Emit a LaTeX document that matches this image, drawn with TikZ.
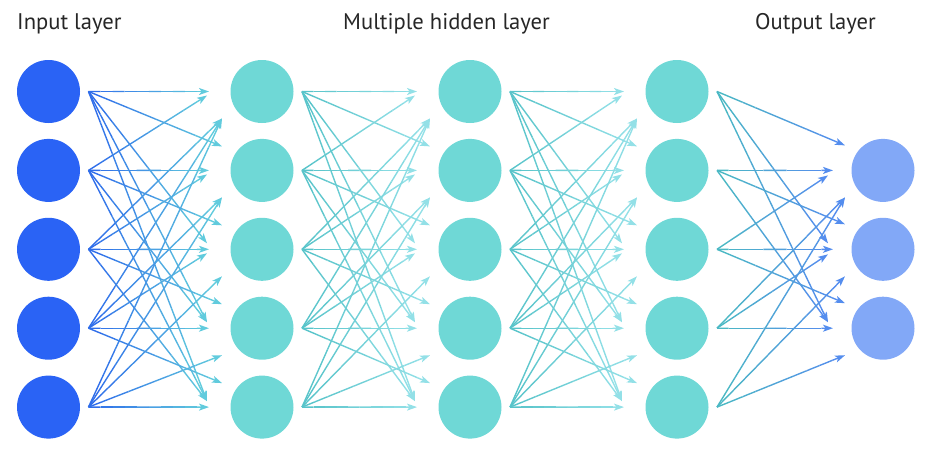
\documentclass[tikz,border=0pt]{standalone}
\usepackage{fontspec}
\setmainfont{PT Sans}
\usetikzlibrary{arrows.meta,calc}

\definecolor{inblue}{RGB}{42,99,245}
\definecolor{hidteal}{RGB}{111,216,214}
\definecolor{outblue}{RGB}{130,168,247}
\definecolor{txtgray}{RGB}{38,38,38}
\definecolor{aBlue}{RGB}{45,105,235}
\definecolor{aTealA}{RGB}{100,208,220}
\definecolor{aTealS}{RGB}{85,194,200}
\definecolor{aTealL}{RGB}{150,226,233}
\definecolor{aTealS4}{RGB}{75,186,194}
\definecolor{aBlue4}{RGB}{85,138,240}

% choose end point tag for source row #1 and target row #2
\newcommand\pickend[2]{%
  \ifnum#1=#2 \def\endtag{H}\else
    \ifnum#1<#2 
      \ifnum\numexpr#2-#1\relax=1 \def\endtag{FA}\else\def\endtag{NA}\fi
    \else
      \ifnum\numexpr#1-#2\relax=1 
        \ifnum#1=5 \def\endtag{FB}\else\def\endtag{NB}\fi
      \else\def\endtag{FB}\fi
    \fi
  \fi}

% gradient arrow from coordinate #1 to coordinate #2, colours #3 -> #4
\newcommand\gradarrow[4]{%
  \foreach \k in {0,...,9} {
    \pgfmathsetmacro\ta{\k/10}
    \pgfmathsetmacro\tb{(\k+1)/10}
    \pgfmathtruncatemacro\pc{100*(\k+0.5)/10}
    \edef\tmpc{#4!\pc!#3}
    \colorlet{segc}{\tmpc}
    \ifnum\k=9
      \draw[conn,segc,tipstyle] ($(#1)!\ta!(#2)$) -- ($(#1)!\tb!(#2)$);
    \else
      \draw[conn,segc] ($(#1)!\ta!(#2)$) -- ($(#1)!\tb!(#2)$);
    \fi
  }}

\begin{document}
\begin{tikzpicture}[x=1pt,y=-1pt,
  conn/.style={line width=1.4pt},
  tipstyle/.style={-{Stealth[length=10pt,width=7pt,inset=2.5pt]}},
  neuron/.style={circle,minimum size=63pt,inner sep=0pt,draw=none},
  lbl/.style={anchor=base west,inner sep=0pt,text=txtgray,font=\fontsize{22.6}{26}\selectfont}]

\useasboundingbox (0,0) rectangle (948,458);

% labels
\node[lbl] (tin)  at (17,29.3)  {Input layer};
\node[lbl] (thid) at (343,29.3) {Multiple hidden layer};
\node[lbl] (tout) at (755,29.3) {Output layer};

% neurons
\foreach \i in {1,...,5} {
  \node[neuron,fill=inblue]  (L0n\i) at (48.5,{91.5+78.9*(\i-1)}) {};
  \node[neuron,fill=hidteal] (L1n\i) at (262,{91.5+78.9*(\i-1)}) {};
  \node[neuron,fill=hidteal] (L2n\i) at (470,{91.5+78.9*(\i-1)}) {};
  \node[neuron,fill=hidteal] (L3n\i) at (677,{91.5+78.9*(\i-1)}) {};
}
\foreach \j in {2,3,4} {
  \node[neuron,fill=outblue] (L4n\j) at (883,{91.5+78.9*(\j-1)}) {};
}

% source points and target end points
\foreach \L/\P in {1/0,2/1,3/2,4/3} {
  \foreach \i in {1,...,5} {
    \coordinate (s\L-\i) at ($(L\P n\i.center)+(40,0)$);
  }
}
\foreach \L in {1,2,3} {
  \foreach \j in {1,...,5} {
    \coordinate (t\L-\j-H)  at ($(L\L n\j.center)+(-53,0)$);
    \coordinate (t\L-\j-NA) at ($(L\L n\j.center)+(-55,-6)$);
    \coordinate (t\L-\j-NB) at ($(L\L n\j.center)+(-55,4)$);
    \coordinate (t\L-\j-FA) at ($(L\L n\j.center)+(-40,-24)$);
    \coordinate (t\L-\j-FB) at ($(L\L n\j.center)+(-40,27)$);
  }
}
\foreach \j in {2,3,4} {
  \coordinate (t4-\j-H)  at ($(L4n\j.center)+(-50,0)$);
  \coordinate (t4-\j-NA) at ($(L4n\j.center)+(-55,-6)$);
  \coordinate (t4-\j-NB) at ($(L4n\j.center)+(-55,5)$);
  \coordinate (t4-\j-FA) at ($(L4n\j.center)+(-38,-25)$);
  \coordinate (t4-\j-FB) at ($(L4n\j.center)+(-38,27)$);
}

% connections
\foreach \L/\cs/\ce in {1/aBlue/aTealA,2/aTealS/aTealL,3/aTealS/aTealL} {
  \foreach \i in {1,...,5} {
    \foreach \j in {1,...,5} {
      \pickend{\i}{\j}
      \gradarrow{s\L-\i}{t\L-\j-\endtag}{\cs}{\ce}
    }
  }
}
\foreach \i in {1,...,5} {
  \foreach \j in {2,3,4} {
    \pickend{\i}{\j}
    \gradarrow{s4-\i}{t4-\j-\endtag}{aTealS4}{aBlue4}
  }
}
\end{tikzpicture}
\end{document}
